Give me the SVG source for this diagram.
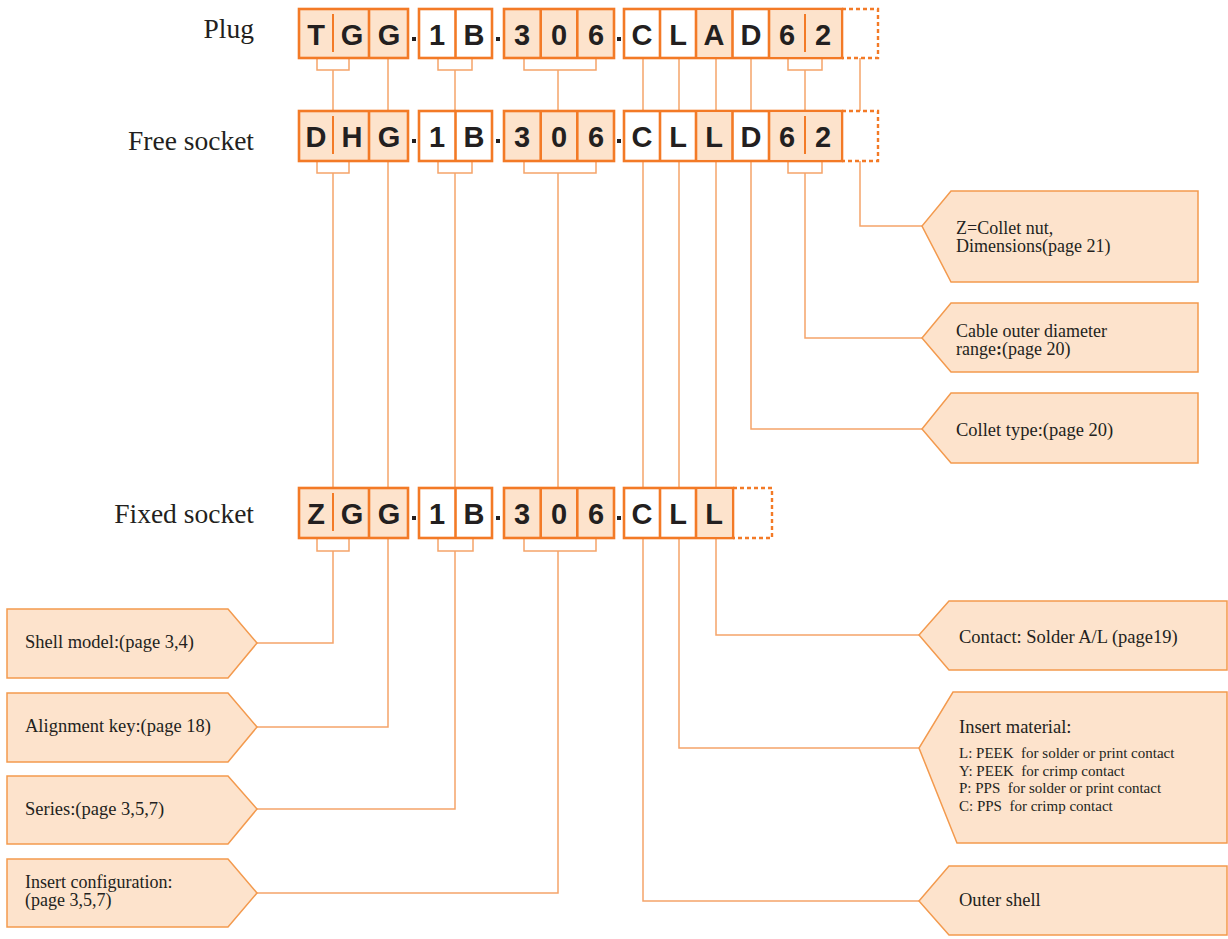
<svg xmlns="http://www.w3.org/2000/svg" width="1228" height="939" viewBox="0 0 1228 939">
<defs>
<style>
.bg{fill:#ffffff}
.cf{fill:#FDE3CC;stroke:#F37A26;stroke-width:2.6}
.cw{fill:#ffffff;stroke:#F37A26;stroke-width:2.6}
.dv{stroke:#F37A26;stroke-width:2.6;fill:none}
.pd{stroke:#F37A26;stroke-width:2;fill:none}
.dash{stroke:#F37A26;stroke-width:2.4;fill:none;stroke-dasharray:4 3}
.ln{stroke:#F5A46A;stroke-width:1.5;fill:none}
.lt{font-family:"Liberation Sans",Arial,sans-serif;font-weight:bold;font-size:29px;fill:#231F20;text-anchor:middle}
.dot{fill:#231F20}
.rl{font-family:"Liberation Serif","Times New Roman",serif;font-size:27.5px;fill:#231F20;text-anchor:end}
.co{fill:#FDE3CC;stroke:#F39A4E;stroke-width:1.5}
.ct{font-family:"Liberation Serif","Times New Roman",serif;font-size:18.5px;fill:#231F20}
.c2{font-family:"Liberation Serif","Times New Roman",serif;font-size:18px;fill:#231F20}
.cs{font-family:"Liberation Serif","Times New Roman",serif;font-size:15px;fill:#231F20;white-space:pre}
</style>
</defs>
<rect class="bg" x="0" y="0" width="1228" height="939"/>

<!-- Row labels -->
<text class="rl" x="254" y="38">Plug</text>
<text class="rl" x="254" y="150">Free socket</text>
<text class="rl" x="254" y="523">Fixed socket</text>

<!-- Connectors -->
<g id="connectors">
  <path class="ln" d="M317 58V70H349V58"/>
  <path class="ln" d="M438 58V70H472V58"/>
  <path class="ln" d="M524 58V70H596V58"/>
  <path class="ln" d="M788 58V70H822V58"/>
  <path class="ln" d="M333 70V111"/>
  <path class="ln" d="M388 58V111"/>
  <path class="ln" d="M455 70V111"/>
  <path class="ln" d="M558 70V111"/>
  <path class="ln" d="M643 58V111"/>
  <path class="ln" d="M679 58V111"/>
  <path class="ln" d="M716 58V111"/>
  <path class="ln" d="M751 58V111"/>
  <path class="ln" d="M805 70V111"/>
  <path class="ln" d="M860 58V111"/>
  <path class="ln" d="M317 161V173H349V161"/>
  <path class="ln" d="M438 161V173H472V161"/>
  <path class="ln" d="M524 161V173H596V161"/>
  <path class="ln" d="M788 161V173H822V161"/>
  <path class="ln" d="M333 173V488"/>
  <path class="ln" d="M388 161V488"/>
  <path class="ln" d="M455 173V488"/>
  <path class="ln" d="M558 173V488"/>
  <path class="ln" d="M643 161V488"/>
  <path class="ln" d="M679 161V488"/>
  <path class="ln" d="M716 161V488"/>
  <path class="ln" d="M751 161V429H922"/>
  <path class="ln" d="M805 173V338H922"/>
  <path class="ln" d="M860 161V226H922"/>
  <path class="ln" d="M317 538V551H349V538"/>
  <path class="ln" d="M438 538V551H473V538"/>
  <path class="ln" d="M524 538V551H596V538"/>
  <path class="ln" d="M333 551V643H257"/>
  <path class="ln" d="M388 538V727H257"/>
  <path class="ln" d="M455 551V809H257"/>
  <path class="ln" d="M558 551V893H257"/>
  <path class="ln" d="M643 538V901H919"/>
  <path class="ln" d="M679 538V748H919"/>
  <path class="ln" d="M716 538V635H919"/>
</g>

<!-- Plug row -->
<g id="plug">
  <rect class="cf" x="299" y="9" width="109" height="49"/>
  <line class="dv" x1="369" y1="9" x2="369" y2="58"/>
  <line class="pd" x1="333" y1="14" x2="333" y2="52"/>
  <text class="lt" x="316" y="45">T</text>
  <text class="lt" x="352" y="45">G</text>
  <text class="lt" x="389" y="45">G</text>
  <rect class="dot" x="412" y="37" width="4" height="4"/>
  <rect class="cw" x="419" y="9" width="73" height="49"/>
  <line class="dv" x1="455.5" y1="9" x2="455.5" y2="58"/>
  <text class="lt" x="437" y="45">1</text>
  <text class="lt" x="474" y="45">B</text>
  <rect class="dot" x="496" y="37" width="4" height="4"/>
  <rect class="cf" x="504" y="9" width="110" height="49"/>
  <line class="dv" x1="540.7" y1="9" x2="540.7" y2="58"/>
  <line class="dv" x1="577.3" y1="9" x2="577.3" y2="58"/>
  <text class="lt" x="522" y="45">3</text>
  <text class="lt" x="559" y="45">0</text>
  <text class="lt" x="596" y="45">6</text>
  <rect class="dot" x="617" y="37" width="4" height="4"/>
  <path class="dash" d="M842 9H878V58H842"/>
  <rect class="cw" x="624" y="9" width="218" height="49"/>
  <rect fill="#FDE3CC" x="696" y="10.3" width="36" height="46.4"/>
  <rect fill="#FDE3CC" x="769" y="10.3" width="71.7" height="46.4"/>
  <line class="dv" x1="660" y1="9" x2="660" y2="58"/>
  <line class="dv" x1="696" y1="9" x2="696" y2="58"/>
  <line class="dv" x1="732.5" y1="9" x2="732.5" y2="58"/>
  <line class="dv" x1="769" y1="9" x2="769" y2="58"/>
  <line class="pd" x1="805" y1="14" x2="805" y2="52"/>
  <text class="lt" x="642" y="45">C</text>
  <text class="lt" x="678" y="45">L</text>
  <text class="lt" x="714" y="45">A</text>
  <text class="lt" x="751" y="45">D</text>
  <text class="lt" x="787" y="45">6</text>
  <text class="lt" x="823" y="45">2</text>
</g>

<!-- Free socket row -->
<g id="free-socket">
  <rect class="cf" x="299" y="111" width="109" height="50"/>
  <line class="dv" x1="369" y1="111" x2="369" y2="161"/>
  <line class="pd" x1="333" y1="116" x2="333" y2="154"/>
  <text class="lt" x="316" y="147">D</text>
  <text class="lt" x="352" y="147">H</text>
  <text class="lt" x="389" y="147">G</text>
  <rect class="dot" x="412" y="139" width="4" height="4"/>
  <rect class="cw" x="419" y="111" width="73" height="50"/>
  <line class="dv" x1="455.5" y1="111" x2="455.5" y2="161"/>
  <text class="lt" x="437" y="147">1</text>
  <text class="lt" x="474" y="147">B</text>
  <rect class="dot" x="496" y="139" width="4" height="4"/>
  <rect class="cf" x="504" y="111" width="110" height="50"/>
  <line class="dv" x1="540.7" y1="111" x2="540.7" y2="161"/>
  <line class="dv" x1="577.3" y1="111" x2="577.3" y2="161"/>
  <text class="lt" x="522" y="147">3</text>
  <text class="lt" x="559" y="147">0</text>
  <text class="lt" x="596" y="147">6</text>
  <rect class="dot" x="617" y="139" width="4" height="4"/>
  <path class="dash" d="M842 111H878V161H842"/>
  <rect class="cw" x="624" y="111" width="218" height="50"/>
  <rect fill="#FDE3CC" x="696" y="112.3" width="36" height="47.4"/>
  <rect fill="#FDE3CC" x="769" y="112.3" width="71.7" height="47.4"/>
  <line class="dv" x1="660" y1="111" x2="660" y2="161"/>
  <line class="dv" x1="696" y1="111" x2="696" y2="161"/>
  <line class="dv" x1="732.5" y1="111" x2="732.5" y2="161"/>
  <line class="dv" x1="769" y1="111" x2="769" y2="161"/>
  <line class="pd" x1="805" y1="116" x2="805" y2="154"/>
  <text class="lt" x="642" y="147">C</text>
  <text class="lt" x="678" y="147">L</text>
  <text class="lt" x="714" y="147">L</text>
  <text class="lt" x="751" y="147">D</text>
  <text class="lt" x="787" y="147">6</text>
  <text class="lt" x="823" y="147">2</text>
</g>

<!-- Fixed socket row -->
<g id="fixed-socket">
  <rect class="cf" x="299" y="488" width="109" height="50"/>
  <line class="dv" x1="369" y1="488" x2="369" y2="538"/>
  <line class="pd" x1="333" y1="493" x2="333" y2="531"/>
  <text class="lt" x="316" y="524">Z</text>
  <text class="lt" x="352" y="524">G</text>
  <text class="lt" x="389" y="524">G</text>
  <rect class="dot" x="412" y="516" width="4" height="4"/>
  <rect class="cw" x="419" y="488" width="73" height="50"/>
  <line class="dv" x1="455.5" y1="488" x2="455.5" y2="538"/>
  <text class="lt" x="437" y="524">1</text>
  <text class="lt" x="474" y="524">B</text>
  <rect class="dot" x="496" y="516" width="4" height="4"/>
  <rect class="cf" x="504" y="488" width="110" height="50"/>
  <line class="dv" x1="540.7" y1="488" x2="540.7" y2="538"/>
  <line class="dv" x1="577.3" y1="488" x2="577.3" y2="538"/>
  <text class="lt" x="522" y="524">3</text>
  <text class="lt" x="559" y="524">0</text>
  <text class="lt" x="596" y="524">6</text>
  <rect class="dot" x="617" y="516" width="4" height="4"/>
  <path class="dash" d="M733 488H772V538H733"/>
  <rect class="cw" x="624" y="488" width="109" height="50"/>
  <rect fill="#FDE3CC" x="696" y="489.3" width="35.7" height="47.4"/>
  <line class="dv" x1="660" y1="488" x2="660" y2="538"/>
  <line class="dv" x1="696" y1="488" x2="696" y2="538"/>
  <text class="lt" x="642" y="524">C</text>
  <text class="lt" x="678" y="524">L</text>
  <text class="lt" x="714" y="524">L</text>
</g>

<!-- Left callouts -->
<g id="shell-model">
  <polygon class="co" points="7,609 228,609 257,643 228,678 7,678"/>
  <text class="ct" x="25" y="648">Shell model:(page 3,4)</text>
</g>
<g id="alignment-key">
  <polygon class="co" points="7,693 228,693 257,727 228,762 7,762"/>
  <text class="ct" x="25" y="732">Alignment key:(page 18)</text>
</g>
<g id="series">
  <polygon class="co" points="7,776 228,776 257,809 228,844 7,844"/>
  <text class="ct" x="25" y="815">Series:(page 3,5,7)</text>
</g>
<g id="insert-configuration">
  <polygon class="co" points="7,859 228,859 257,893 228,927 7,927"/>
  <text class="c2" x="25" y="888">Insert configuration:</text>
  <text class="c2" x="25" y="906">(page 3,5,7)</text>
</g>

<!-- Right callouts -->
<g id="collet-nut">
  <polygon class="co" points="951,191 1198,191 1198,282 951,282 922,226"/>
  <text class="c2" x="956" y="234">Z=Collet nut,</text>
  <text class="c2" x="956" y="252">Dimensions(page 21)</text>
</g>
<g id="cable-diameter">
  <polygon class="co" points="951,303 1198,303 1198,372 951,372 922,338"/>
  <text class="c2" x="956" y="337">Cable outer diameter</text>
  <text class="c2" x="956" y="355">range<tspan font-weight="bold">:</tspan>(page 20)</text>
</g>
<g id="collet-type">
  <polygon class="co" points="951,393 1198,393 1198,463 951,463 922,429"/>
  <text class="ct" x="956" y="436">Collet type:(page 20)</text>
</g>
<g id="contact">
  <polygon class="co" points="949,601 1227,601 1227,670 949,670 919,635"/>
  <text class="ct" x="959" y="643">Contact: Solder A/L (page19)</text>
</g>
<g id="insert-material">
  <polygon class="co" points="953,692 1227,692 1227,843 957,843 919,748"/>
  <text class="ct" x="959" y="733">Insert material:</text>
  <text class="cs" x="959" y="758" xml:space="preserve">L: PEEK  for solder or print contact</text>
  <text class="cs" x="959" y="776" xml:space="preserve">Y: PEEK  for crimp contact</text>
  <text class="cs" x="959" y="793" xml:space="preserve">P: PPS  for solder or print contact</text>
  <text class="cs" x="959" y="811" xml:space="preserve">C: PPS  for crimp contact</text>
</g>
<g id="outer-shell">
  <polygon class="co" points="949,866 1227,866 1227,935 949,935 919,901"/>
  <text class="ct" x="959" y="906">Outer shell</text>
</g>
</svg>
